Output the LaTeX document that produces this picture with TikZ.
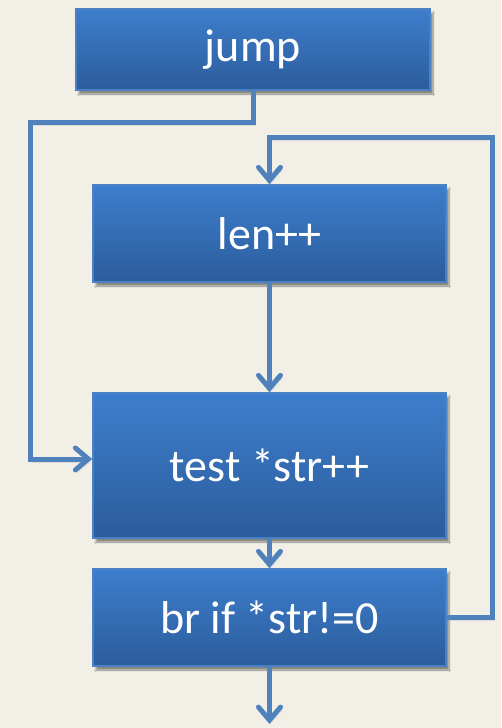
\documentclass[tikz,border=0pt]{standalone}
\usepackage{fontspec}
\setmainfont{Carlito}
\usetikzlibrary{arrows.meta,shadows.blur}
\definecolor{paper}{HTML}{F2F0E6}
\definecolor{boxtop}{HTML}{3D7ECC}
\definecolor{boxbot}{HTML}{2C5C9C}
\definecolor{boxedge}{HTML}{4A80C4}
\definecolor{wire}{HTML}{4F81BD}
\tikzset{
  flowbox/.style={draw=boxedge, line width=1.5pt, top color=boxtop, bottom color=boxbot,
    minimum width=353pt, inner sep=0pt, text=white,
    font=\fontsize{46}{55}\selectfont,
    blur shadow={shadow xshift=3pt, shadow yshift=-4pt, shadow blur steps=6, shadow opacity=45}},
  wireline/.style={draw=wire, line width=5pt,
    -{Straight Barb[length=13pt,width=22pt,line cap=round]},
    preaction={draw=black!60, opacity=0.15, transform canvas={xshift=2pt,yshift=-3pt}}}
}
\begin{document}
\begin{tikzpicture}[x=1pt,y=-1pt]
  \fill[paper] (0,0) rectangle (501,728);
  \useasboundingbox (0,0) rectangle (501,728);

  \node[flowbox, minimum width=354pt, minimum height=81pt] (jump) at (253,49.5) {jump};
  \node[flowbox, minimum height=97pt] (len) at (269.5,233.5) {len++};
  \node[flowbox, minimum height=145pt] (test) at (269.5,465.5) {test *str++};
  \node[flowbox, minimum height=97pt] (br) at (269.5,617.5) {br if *str!=0};

  \coordinate (skip) at (30,122);
  \coordinate (back) at (492,137);
  \coordinate (out) at (269.5,724);

  % jump into the loop test
  \draw[wireline] (jump.south) |- (skip) |- ([yshift=6.5pt]test.west);
  % loop back edge
  \draw[wireline] (br.east) -| (back) -| (len.north);
  % straight-line flow
  \draw[wireline] (len.south) -- (test.north);
  \draw[wireline] (test.south) -- (br.north);
  \draw[wireline] (br.south) -- (out);
\end{tikzpicture}
\end{document}
